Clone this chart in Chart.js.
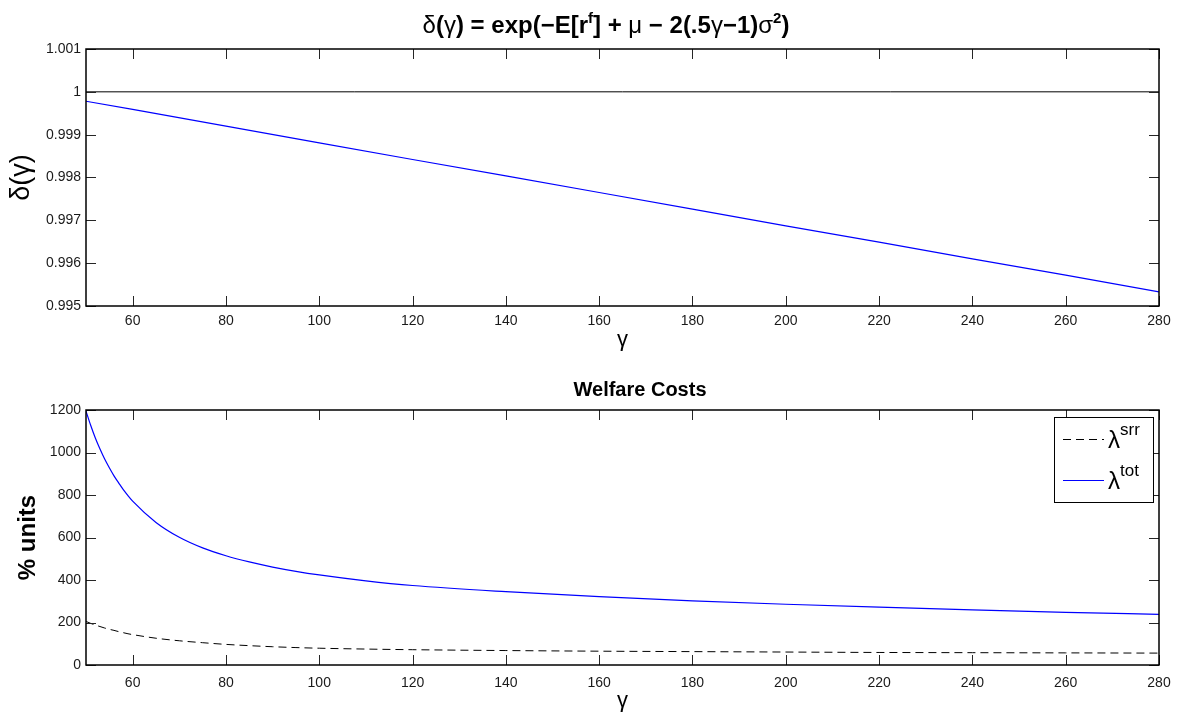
<!DOCTYPE html>
<html>
<head>
<meta charset="utf-8">
<script src="https://cdn.jsdelivr.net/npm/chart.js@4.4.0/dist/chart.umd.min.js"></script>
<style>
  html, body { margin: 0; padding: 0; background: #fff; }
  #wrap { position: relative; width: 1181px; height: 717px; overflow: hidden; }
  #topChart { position: absolute; left: 0; top: 0; }
  #bottomChart { position: absolute; left: 0; top: 358px; }
</style>
</head>
<body>
<div id="wrap">
  <canvas id="topChart" width="1181" height="358"></canvas>
  <canvas id="bottomChart" width="1181" height="359"></canvas>
</div>
<script>
// ---- data ----
const xTickValues = [60, 80, 100, 120, 140, 160, 180, 200, 220, 240, 260, 280];
const xTickLabels = ['60', '80', '100', '120', '140', '160', '180', '200', '220', '240', '260', '280'];

const deltaTickValues = [0.995, 0.996, 0.997, 0.998, 0.999, 1, 1.001];
const deltaTickLabels = ['0.995', '0.996', '0.997', '0.998', '0.999', '1', '1.001'];

const costTickValues = [0, 200, 400, 600, 800, 1000, 1200];
const costTickLabels = ['0', '200', '400', '600', '800', '1000', '1200'];

// discount factor as a function of risk aversion
const gammaDelta = [50, 60, 80, 100, 120, 140, 160, 180, 200, 220, 240, 260, 280];
const deltaValues = [0.99978, 0.99959, 0.99920, 0.99881, 0.99842, 0.99804, 0.99765,
                     0.99726, 0.99687, 0.99649, 0.99610, 0.99572, 0.99533];
const unityGamma = [50, 280];
const unityValues = [1, 1];

// welfare costs (% units)
const gammaCost = [50, 51, 52, 53, 54, 55, 56, 57, 58, 59, 60, 65, 70, 75, 80, 85, 90, 95, 100,
                   110, 120, 140, 160, 180, 200, 220, 240, 260, 280];
const lambdaTot = [1195, 1128, 1068, 1016, 969, 928, 890, 857, 825, 797, 771, 671, 601, 551, 514,
                   485, 461, 441, 424, 396, 374, 345, 322, 302, 286, 272, 259, 248, 238];
const lambdaSrr = [205, 196, 188, 181, 174, 168, 163, 157, 152, 147, 143, 126, 114, 105, 97,
                   91, 86, 82, 79, 75, 72, 68, 65, 63, 61, 59, 58, 57, 56];

// ---- helpers ----
const FAMILY = '"Liberation Sans", Arial, Helvetica, sans-serif';
const pts = (xs, ys) => xs.map((x, i) => ({ x: x, y: ys[i] }));

function drawRich(ctx, segs, cx, baseline, align) {
  let total = 0;
  segs.forEach(s => { ctx.font = s.font; s.w = ctx.measureText(s.t).width; total += s.w; });
  let x = align === 'left' ? cx : cx - total / 2;
  ctx.textAlign = 'left';
  ctx.textBaseline = 'alphabetic';
  segs.forEach(s => {
    ctx.font = s.font;
    ctx.fillText(s.t, x, baseline + (s.dy || 0));
    x += s.w;
  });
  return total;
}

// box around the plot with inward ticks on all four sides
const frameTicks = {
  id: 'frameTicks',
  afterDatasetsDraw(chart) {
    const { ctx, chartArea: a, scales: { x, y } } = chart;
    const L = 10;
    ctx.save();
    ctx.strokeStyle = '#262626';
    ctx.lineWidth = 1;
    ctx.beginPath();
    x.ticks.forEach(t => {
      const px = Math.round(x.getPixelForValue(t.value)) + 0.5;
      ctx.moveTo(px, a.bottom); ctx.lineTo(px, a.bottom - L);
      ctx.moveTo(px, a.top); ctx.lineTo(px, a.top + L);
    });
    y.ticks.forEach(t => {
      const py = Math.round(y.getPixelForValue(t.value)) + 0.5;
      ctx.moveTo(a.left, py); ctx.lineTo(a.left + L, py);
      ctx.moveTo(a.right, py); ctx.lineTo(a.right - L, py);
    });
    ctx.stroke();
    ctx.strokeStyle = '#000';
    ctx.lineWidth = 1.5;
    ctx.strokeRect(a.left, a.top, a.right - a.left, a.bottom - a.top);
    ctx.restore();
  }
};

// equation title over the upper panel
const equationTitle = {
  id: 'equationTitle',
  afterDraw(chart) {
    const { ctx } = chart;
    const b = 'bold 24px ' + FAMILY;
    const g = '24px ' + FAMILY;
    const s = 'bold 15px ' + FAMILY;
    ctx.save();
    ctx.fillStyle = '#000';
    drawRich(ctx, [
      { t: 'δ', font: g }, { t: '(', font: b }, { t: 'γ', font: g },
      { t: ') = exp(−E[r', font: b }, { t: 'f', font: s, dy: -10 },
      { t: '] + ', font: b }, { t: 'μ', font: g }, { t: ' − 2(.5', font: b },
      { t: 'γ', font: g }, { t: '−1)', font: b }, { t: 'σ', font: g },
      { t: '2', font: s, dy: -10 }, { t: ')', font: b }
    ], 606, 33);
    ctx.restore();
  }
};

// plain bold title over the lower panel
const welfareTitle = {
  id: 'welfareTitle',
  afterDraw(chart) {
    const { ctx } = chart;
    ctx.save();
    ctx.fillStyle = '#000';
    drawRich(ctx, [{ t: 'Welfare Costs', font: 'bold 20px ' + FAMILY }], 640, 38);
    ctx.restore();
  }
};

// legend box for the welfare cost panel
const costLegend = {
  id: 'costLegend',
  afterDraw(chart) {
    const { ctx, chartArea: a } = chart;
    const w = 99, h = 85;
    const left = a.right - 6 - w, top = a.top + 7;
    ctx.save();
    ctx.fillStyle = '#fff';
    ctx.fillRect(left, top, w, h);
    ctx.strokeStyle = '#000';
    ctx.lineWidth = 1;
    ctx.strokeRect(left + 0.5, top + 0.5, w, h);
    const items = chart.data.datasets;
    const rows = [{ ds: items[1], sup: 'srr', y: top + 22 }, { ds: items[0], sup: 'tot', y: top + 63 }];
    rows.forEach(r => {
      ctx.strokeStyle = r.ds.borderColor;
      ctx.setLineDash(r.ds.borderDash || []);
      ctx.beginPath();
      ctx.moveTo(left + 9, r.y + 0.5);
      ctx.lineTo(left + 50, r.y + 0.5);
      ctx.stroke();
      ctx.setLineDash([]);
      ctx.fillStyle = '#000';
      drawRich(ctx, [
        { t: 'λ', font: '24px ' + FAMILY, dy: 9 },
        { t: r.sup, font: '17px ' + FAMILY, dy: -4 }
      ], left + 54, r.y, 'left');
    });
    ctx.restore();
  }
};

function xScale(labelPad, titleOffset) {
  return {
    type: 'linear',
    min: 50, max: 280,
    afterBuildTicks: s => { s.ticks = xTickValues.map(v => ({ value: v })); },
    afterFit: s => { s.height = 52; },
    grid: { display: false, drawTicks: false },
    border: { display: false },
    ticks: {
      autoSkip: false, maxRotation: 0, padding: labelPad, color: '#1a1a1a',
      font: { family: FAMILY, size: 14 },
      callback: v => xTickLabels[xTickValues.indexOf(v)]
    },
    title: {
      display: true, text: 'γ', color: '#000',
      font: { family: FAMILY, size: 22 }, padding: { top: 0, bottom: titleOffset }
    }
  };
}

function yScale(vals, labels, min, max, title, titleFont, titlePad) {
  return {
    type: 'linear',
    min: min, max: max,
    afterBuildTicks: s => { s.ticks = vals.map(v => ({ value: v })); },
    afterFit: s => { s.width = 86; },
    grid: { display: false, drawTicks: false },
    border: { display: false },
    ticks: {
      autoSkip: false, padding: 5, color: '#1a1a1a',
      font: { family: FAMILY, size: 14 },
      callback: v => {
        const i = vals.findIndex(t => Math.abs(t - v) < 1e-9);
        return i >= 0 ? labels[i] : '';
      }
    },
    title: {
      display: true, text: title, color: '#000',
      font: titleFont, padding: { top: titlePad, bottom: 0 }
    }
  };
}

const common = {
  responsive: false,
  animation: false,
  events: [],
  elements: { point: { radius: 0 } },
  plugins: { legend: { display: false }, tooltip: { enabled: false } }
};

new Chart(document.getElementById('topChart'), {
  type: 'line',
  data: {
    datasets: [
      { data: pts(gammaDelta, deltaValues), borderColor: '#0000ff', borderWidth: 1.2, fill: false },
      { data: pts(unityGamma, unityValues), borderColor: '#000', borderWidth: 1, fill: false }
    ]
  },
  options: Object.assign({}, common, {
    layout: { padding: { top: 49, right: 22, bottom: 0, left: 0 } },
    scales: {
      x: xScale(7, 5),
      y: yScale(deltaTickValues, deltaTickLabels, 0.995, 1.001, 'δ(γ)',
                { family: FAMILY, size: 27 }, 5)
    }
  }),
  plugins: [frameTicks, equationTitle]
});

new Chart(document.getElementById('bottomChart'), {
  type: 'line',
  data: {
    datasets: [
      { label: 'λtot', data: pts(gammaCost, lambdaTot), borderColor: '#0000ff', borderWidth: 1.2,
        cubicInterpolationMode: 'monotone', fill: false },
      { label: 'λsrr', data: pts(gammaCost, lambdaSrr), borderColor: '#000', borderWidth: 1,
        borderDash: [8, 5], cubicInterpolationMode: 'monotone', fill: false }
    ]
  },
  options: Object.assign({}, common, {
    layout: { padding: { top: 52, right: 22, bottom: 0, left: 0 } },
    scales: {
      x: xScale(10, 3),
      y: yScale(costTickValues, costTickLabels, 0, 1200, '% units',
                { family: FAMILY, size: 24, weight: 'bold' }, 14)
    }
  }),
  plugins: [frameTicks, costLegend, welfareTitle]
});
</script>
</body>
</html>
